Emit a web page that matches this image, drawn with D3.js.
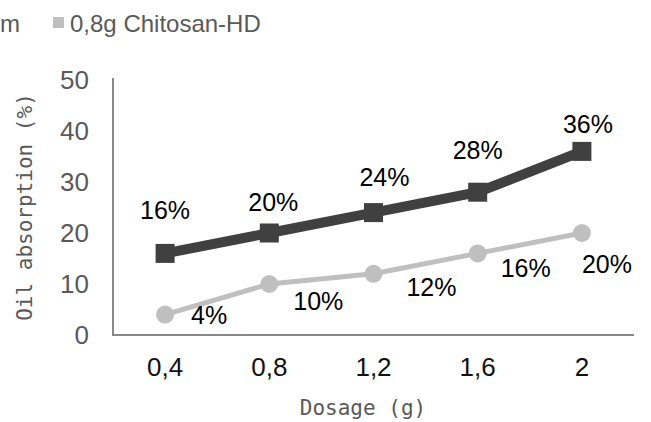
<!DOCTYPE html>
<html>
<head>
<meta charset="utf-8">
<script src="https://cdn.jsdelivr.net/npm/d3@7/dist/d3.min.js"></script>
<style>
  html, body { margin: 0; padding: 0; background: #fff; }
  svg { display: block; }
</style>
</head>
<body>
<svg id="chart" width="651" height="422"></svg>
<script>
// ---- data ----
const categories = ["0,4", "0,8", "1,2", "1,6", "2"];
const seriesDark = [16, 20, 24, 28, 36];      // first series (legend cut off: "...m")
const seriesLight = [4, 10, 12, 16, 20];      // 0,8g Chitosan-HD
const yTicks = [0, 10, 20, 30, 40, 50];
const legendLight = "0,8g Chitosan-HD";
const legendDarkTail = "m";

// ---- label nudges (layout only) ----
const darkLabelNudge = [[0, -34], [4, -22], [11, -27], [0, -33], [6, -18]];
const lightLabelNudge = [[44, 9], [49, 26], [58, 22], [48, 24], [25, 40]];

const svg = d3.select("#chart");
const x = d3.scaleBand().domain(categories).range([113, 634]);
const y = d3.scaleLinear().domain([0, 50]).range([335, 80]);
const cx = c => x(c) + x.bandwidth() / 2;

// axis lines
svg.append("line").attr("x1", 113).attr("x2", 113).attr("y1", 78).attr("y2", y(0))
  .attr("stroke", "#898989").attr("stroke-width", 2);
svg.append("line").attr("x1", 112).attr("x2", 634).attr("y1", y(0)).attr("y2", y(0))
  .attr("stroke", "#898989").attr("stroke-width", 2);

// y tick labels
svg.append("g").selectAll("text").data(yTicks).join("text")
  .attr("x", 89).attr("y", d => y(d) + 9)
  .attr("text-anchor", "end")
  .attr("font-family", "'Liberation Sans', Arial, sans-serif")
  .attr("font-size", 26).attr("fill", "#595959")
  .text(d => d);

// x tick labels
svg.append("g").selectAll("text").data(categories).join("text")
  .attr("x", d => cx(d)).attr("y", 376)
  .attr("text-anchor", "middle")
  .attr("font-family", "'Liberation Sans', Arial, sans-serif")
  .attr("font-size", 26).attr("fill", "#111")
  .text(d => d);

// axis titles
svg.append("text").attr("x", 363).attr("y", 415)
  .attr("text-anchor", "middle")
  .attr("font-family", "'DejaVu Sans Mono', monospace")
  .attr("font-size", 21).attr("fill", "#595959")
  .text("Dosage (g)");
svg.append("text")
  .attr("transform", "translate(32,207) rotate(-90)")
  .attr("text-anchor", "middle")
  .attr("font-family", "'DejaVu Sans Mono', monospace")
  .attr("font-size", 21).attr("fill", "#595959")
  .text("Oil absorption (%)");

const line = d3.line().x((d, i) => cx(categories[i])).y(d => y(d));

// light series
svg.append("path").datum(seriesLight).attr("d", line)
  .attr("fill", "none").attr("stroke", "#bfbfbf").attr("stroke-width", 5)
  .attr("stroke-linejoin", "round");
svg.append("g").selectAll("circle").data(seriesLight).join("circle")
  .attr("cx", (d, i) => cx(categories[i])).attr("cy", d => y(d))
  .attr("r", 9).attr("fill", "#bfbfbf");

// dark series
svg.append("path").datum(seriesDark).attr("d", line)
  .attr("fill", "none").attr("stroke", "#404040").attr("stroke-width", 10);
svg.append("g").selectAll("rect").data(seriesDark).join("rect")
  .attr("x", (d, i) => cx(categories[i]) - 9.5).attr("y", d => y(d) - 9.5)
  .attr("width", 19).attr("height", 19).attr("fill", "#404040");

// data labels
svg.append("g").selectAll("text").data(seriesDark).join("text")
  .attr("x", (d, i) => cx(categories[i]) + darkLabelNudge[i][0])
  .attr("y", (d, i) => y(d) + darkLabelNudge[i][1])
  .attr("text-anchor", "middle")
  .attr("font-family", "'Liberation Sans', Arial, sans-serif")
  .attr("font-size", 25).attr("fill", "#000")
  .text(d => d + "%");
svg.append("g").selectAll("text").data(seriesLight).join("text")
  .attr("x", (d, i) => cx(categories[i]) + lightLabelNudge[i][0])
  .attr("y", (d, i) => y(d) + lightLabelNudge[i][1])
  .attr("text-anchor", "middle")
  .attr("font-family", "'Liberation Sans', Arial, sans-serif")
  .attr("font-size", 25).attr("fill", "#000")
  .text(d => d + "%");

// legend
svg.append("text").attr("x", 0).attr("y", 32)
  .attr("font-family", "'Liberation Sans', Arial, sans-serif")
  .attr("font-size", 24).attr("fill", "#595959")
  .text(legendDarkTail);
svg.append("rect").attr("x", 53).attr("y", 17).attr("width", 11).attr("height", 11)
  .attr("fill", "#bfbfbf");
svg.append("text").attr("x", 70).attr("y", 32)
  .attr("font-family", "'Liberation Sans', Arial, sans-serif")
  .attr("font-size", 24).attr("fill", "#595959")
  .text(legendLight);
</script>
</body>
</html>
